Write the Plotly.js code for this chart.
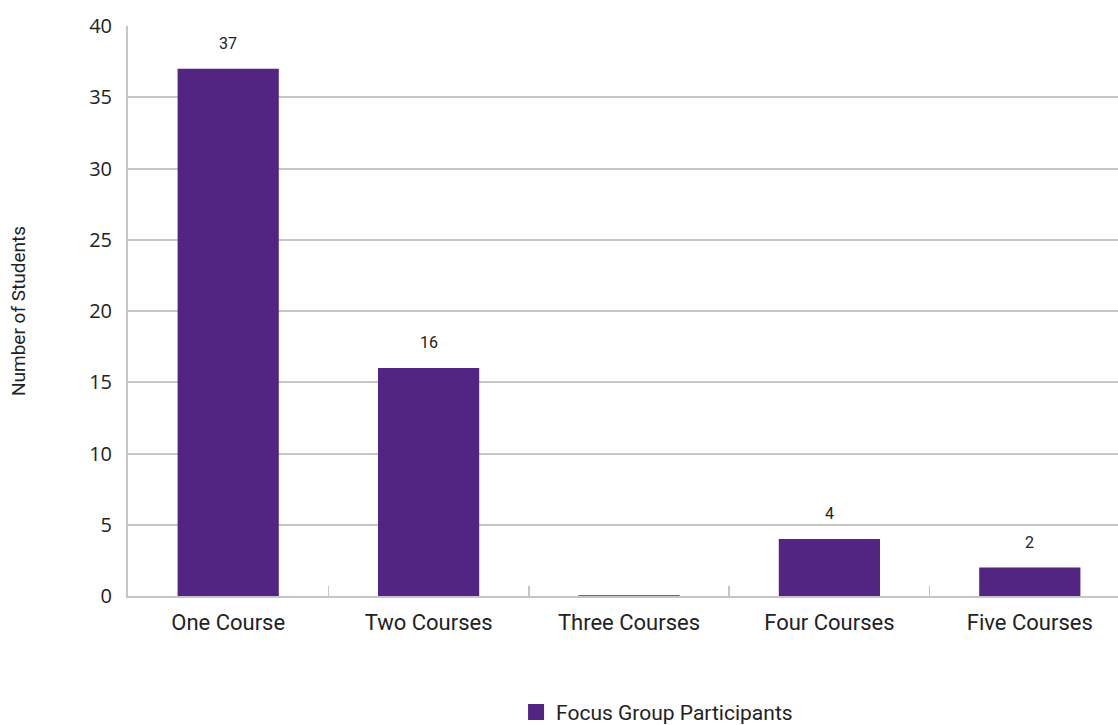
<!DOCTYPE html>
<html>
<head>
<meta charset="utf-8">
<script src="https://cdn.plot.ly/plotly-3.0.1.min.js"></script>
<style>
html,body{margin:0;padding:0;overflow:hidden;background:#fff;}
#chart{width:1131px;height:725px;}
</style>
</head>
<body>
<div id="chart"></div>
<script>
const categories = ["One Course", "Two Courses", "Three Courses", "Four Courses", "Five Courses"];
const students = [37, 16, 0, 4, 2];
const seriesName = "Focus Group Participants";
const yTicks = [0, 5, 10, 15, 20, 25, 30, 35, 40];

const purple = "#512581";
const narrow = "Roboto, 'Liberation Sans', sans-serif";

const bar = {
  type: "bar",
  x: categories,
  y: students,
  name: seriesName,
  showlegend: false,
  marker: {
    color: purple,
    line: { color: "#7a5aa8", width: students.map(v => v === 0 ? 2 : 0) }
  },
  hoverinfo: "x+y"
};

const legendProxy = {
  type: "scatter",
  mode: "markers",
  x: [null],
  y: [null],
  name: seriesName,
  marker: { symbol: "square", size: 19, color: purple },
  showlegend: true
};

const annotations = categories.map((c, i) => ({
  x: c,
  y: students[i],
  text: students[i] ? String(students[i]) : "",
  showarrow: false,
  yanchor: "bottom",
  yshift: 14,
  font: { family: "Roboto, 'Liberation Sans', sans-serif", size: 16, color: "#222" }
})).filter(a => a.text !== "");

const layout = {
  width: 1131,
  height: 725,
  margin: { l: 128, r: 1, t: 26, b: 129, autoexpand: false },
  paper_bgcolor: "#fff",
  plot_bgcolor: "#fff",
  bargap: 0.495,
  showlegend: true,
  legend: {
    orientation: "h",
    x: 0.528,
    xanchor: "center",
    y: -0.204,
    yanchor: "middle",
    font: { family: narrow, size: 21, color: "#222" },
    itemclick: false
  },
  xaxis: {
    type: "category",
    tickson: "boundaries",
    ticks: "inside",
    ticklen: 10,
    tickwidth: 1.5,
    tickcolor: "#c6c6c6",
    showline: true,
    linecolor: "#c6c6c6",
    linewidth: 2,
    showgrid: false,
    ticklabelstandoff: 6,
    tickfont: { family: narrow, size: 22, color: "#222" },
    fixedrange: true
  },
  yaxis: {
    range: [0, 40],
    tickvals: yTicks,
    ticktext: yTicks.map(String),
    showgrid: true,
    gridcolor: "#c6c6c6",
    gridwidth: 2,
    showline: true,
    linecolor: "#c6c6c6",
    linewidth: 2,
    zeroline: false,
    ticks: "",
    ticklabelstandoff: 10,
    tickfont: { family: "'Open Sans', 'DejaVu Sans', sans-serif", size: 20, color: "#222" },
    title: {
      text: "Number of Students",
      font: { family: narrow, size: 19, color: "#222" },
      standoff: 58
    },
    fixedrange: true
  },
  annotations: annotations
};

Plotly.newPlot("chart", [bar, legendProxy], layout, { displayModeBar: false, staticPlot: true });
</script>
</body>
</html>
